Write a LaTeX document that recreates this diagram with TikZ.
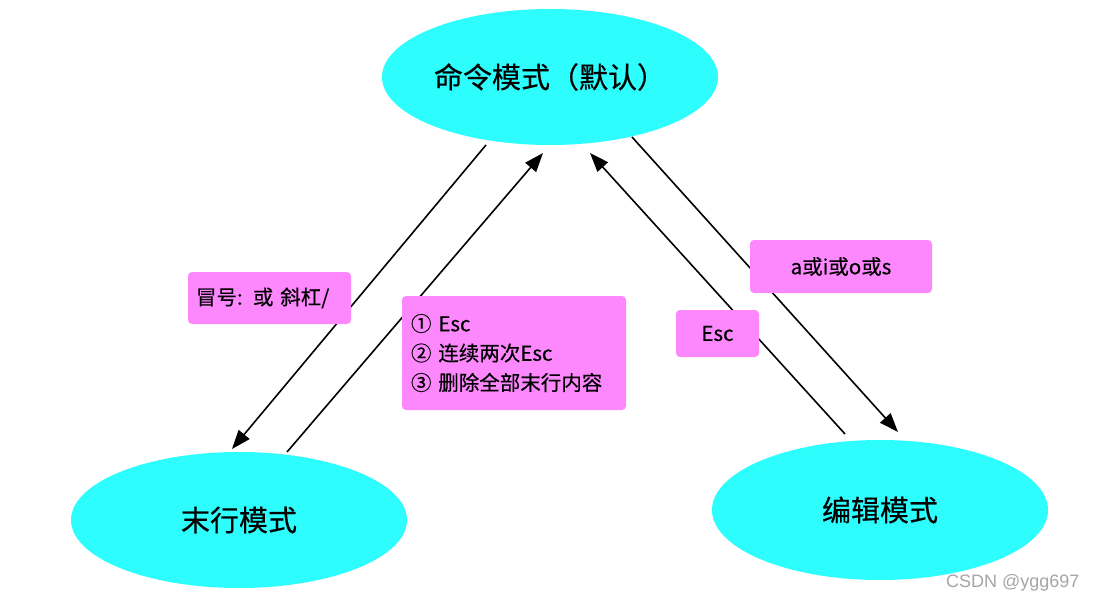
\documentclass[tikz,border=0pt]{standalone}
\usepackage{fontspec}
\setmainfont{Noto Sans CJK SC}[FakeBold=0.4]
\newfontfamily\wmfont{Liberation Sans}
\usetikzlibrary{arrows.meta,shapes.geometric}
\definecolor{cyanfill}{HTML}{2EFDFD}
\definecolor{pinkfill}{HTML}{FD88FD}
\tikzset{
  mode/.style={ellipse, fill=cyanfill, draw=none, minimum width=336pt, minimum height=136pt, inner sep=0pt, font=\fontsize{29}{34}\selectfont},
  lbl/.style={fill=pinkfill, draw=none, rounded corners=4pt, inner sep=0pt, font=\fontsize{20.5}{29.5}\selectfont},
  conn/.style={line width=1.6pt, -{Triangle[length=19pt,width=14pt]}},
}
\begin{document}
\begin{tikzpicture}[x=1pt,y=-1pt]
\useasboundingbox (0,0) rectangle (1097,604);
\fill[white] (0,0) rectangle (1097,604);
\node[mode] (cmd) at (550,77) {命令模式（默认）};
\node[mode] (last) at (239,520) {末行模式};
\node[mode, minimum height=140pt] (edit) at (880,510) {编辑模式};
% connector ends
\coordinate (c1s) at (486,145);
\coordinate (c1e) at (232,449);
\coordinate (c2s) at (287,452);
\coordinate (c2e) at (543,153);
\coordinate (c3s) at (845,434);
\coordinate (c3e) at (590,153);
\coordinate (c4s) at (632,137);
\coordinate (c4e) at (898,432);
\draw[conn] (c1s) -- (c1e);
\draw[conn] (c2s) -- (c2e);
\draw[conn] (c3s) -- (c3e);
\draw[conn] (c4s) -- (c4e);
% labels
\node[lbl, minimum width=163pt, minimum height=52pt, text width=147pt, align=left] (l1) at (269.5,298) {冒号: 或 斜杠/};
\node[lbl, minimum width=224pt, minimum height=114pt, text width=206pt, align=left] (l2) at (514,353) {① Esc\\② 连续两次Esc\\③ 删除全部末行内容};
\node[lbl, minimum width=182pt, minimum height=53pt] (l3) at (841,266.5) {a或i或o或s};
\node[lbl, minimum width=83pt, minimum height=47pt] (l4) at (717.5,333.5) {Esc};
\node[text=gray!70, font=\wmfont\fontsize{18}{20}\selectfont, anchor=east] (wm) at (1083,583) {CSDN @ygg697};
\end{tikzpicture}
\end{document}
